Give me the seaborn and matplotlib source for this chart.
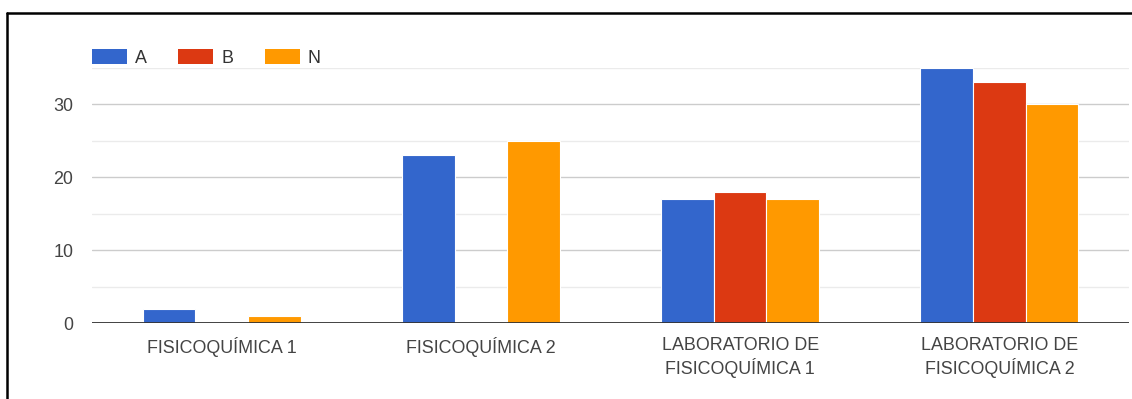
import matplotlib
matplotlib.use("Agg")
import matplotlib.pyplot as plt
from matplotlib.lines import Line2D
from matplotlib.patches import Patch
import seaborn as sns
import pandas as pd

# Course names and per-grade counts
courses = [
    "FISICOQUÍMICA 1",
    "FISICOQUÍMICA 2",
    "LABORATORIO DE\nFISICOQUÍMICA 1",
    "LABORATORIO DE\nFISICOQUÍMICA 2",
]
grades = ["A", "B", "N"]
counts_a = [2, 23, 17, 35]
counts_b = [0, 0, 18, 33]
counts_n = [1, 25, 17, 30]
grade_colors = ["#3366CC", "#DC3912", "#FF9900"]
y_ticks = [0, 10, 20, 30]

rows = []
for grade, vals in zip(grades, [counts_a, counts_b, counts_n]):
    for course, v in zip(courses, vals):
        rows.append({"course": course, "grade": grade, "count": v})
df = pd.DataFrame(rows)

sns.set_theme(style="white")
plt.rcParams["font.family"] = ["Liberation Sans", "DejaVu Sans"]

FS = 12.9
W, H, DPI = 1132, 399, 100
fig = plt.figure(figsize=(W / DPI, H / DPI), dpi=DPI)
left, right = 92 / W, 1129 / W
bottom, top = (H - 323.3) / H, (H - 67.7) / H
ax = fig.add_axes([left, bottom, right - left, top - bottom])

sns.barplot(
    data=df, x="course", y="count", hue="grade",
    order=courses, hue_order=grades, palette=grade_colors,
    width=0.61, saturation=1, edgecolor="white", linewidth=0.8,
    errorbar=None, ax=ax, legend=False, zorder=3,
)

ax.set_ylim(0, 35)
ax.set_xlim(-0.5, len(courses) - 0.5)

# Grid: major every 10, minor halfway between
for y in [5, 15, 25, 35]:
    ax.axhline(y, color="#ebebeb", lw=1.0, zorder=1)
for y in y_ticks[1:]:
    ax.axhline(y, color="#cccccc", lw=1.0, zorder=1)
ax.axhline(0, color="#333333", lw=1.3, zorder=4)

ax.set_yticks(y_ticks)
ax.set_yticklabels([str(t) for t in y_ticks])
ax.tick_params(axis="y", length=0, pad=13.5, labelsize=FS, labelcolor="#444444")
ax.tick_params(axis="x", length=0, pad=10, labelsize=FS, labelcolor="#444444")
for lbl in ax.get_xticklabels():
    lbl.set_linespacing(1.25)
ax.set_xlabel("")
ax.set_ylabel("")
for s in ax.spines.values():
    s.set_visible(False)

handles = [Patch(facecolor=c, edgecolor="none") for c in grade_colors]
fig.legend(
    handles, grades, loc="upper left", bbox_to_anchor=(92 / W, 1 - 49 / H),
    ncol=3, frameon=False, fontsize=FS, labelcolor="#333333",
    handlelength=1.95, handleheight=0.95, handletextpad=0.45,
    columnspacing=1.75, borderpad=0, borderaxespad=0,
)

# Frame lines along the left and top edges
fig.add_artist(Line2D([6.5 / W, 6.5 / W], [0, 1 - 12.5 / H], color="black", lw=1.8,
                      transform=fig.transFigure))
fig.add_artist(Line2D([6.5 / W, 1], [1 - 12.5 / H, 1 - 12.5 / H], color="black", lw=1.8,
                      transform=fig.transFigure))

fig.savefig("out.png", dpi=DPI, facecolor="white")
